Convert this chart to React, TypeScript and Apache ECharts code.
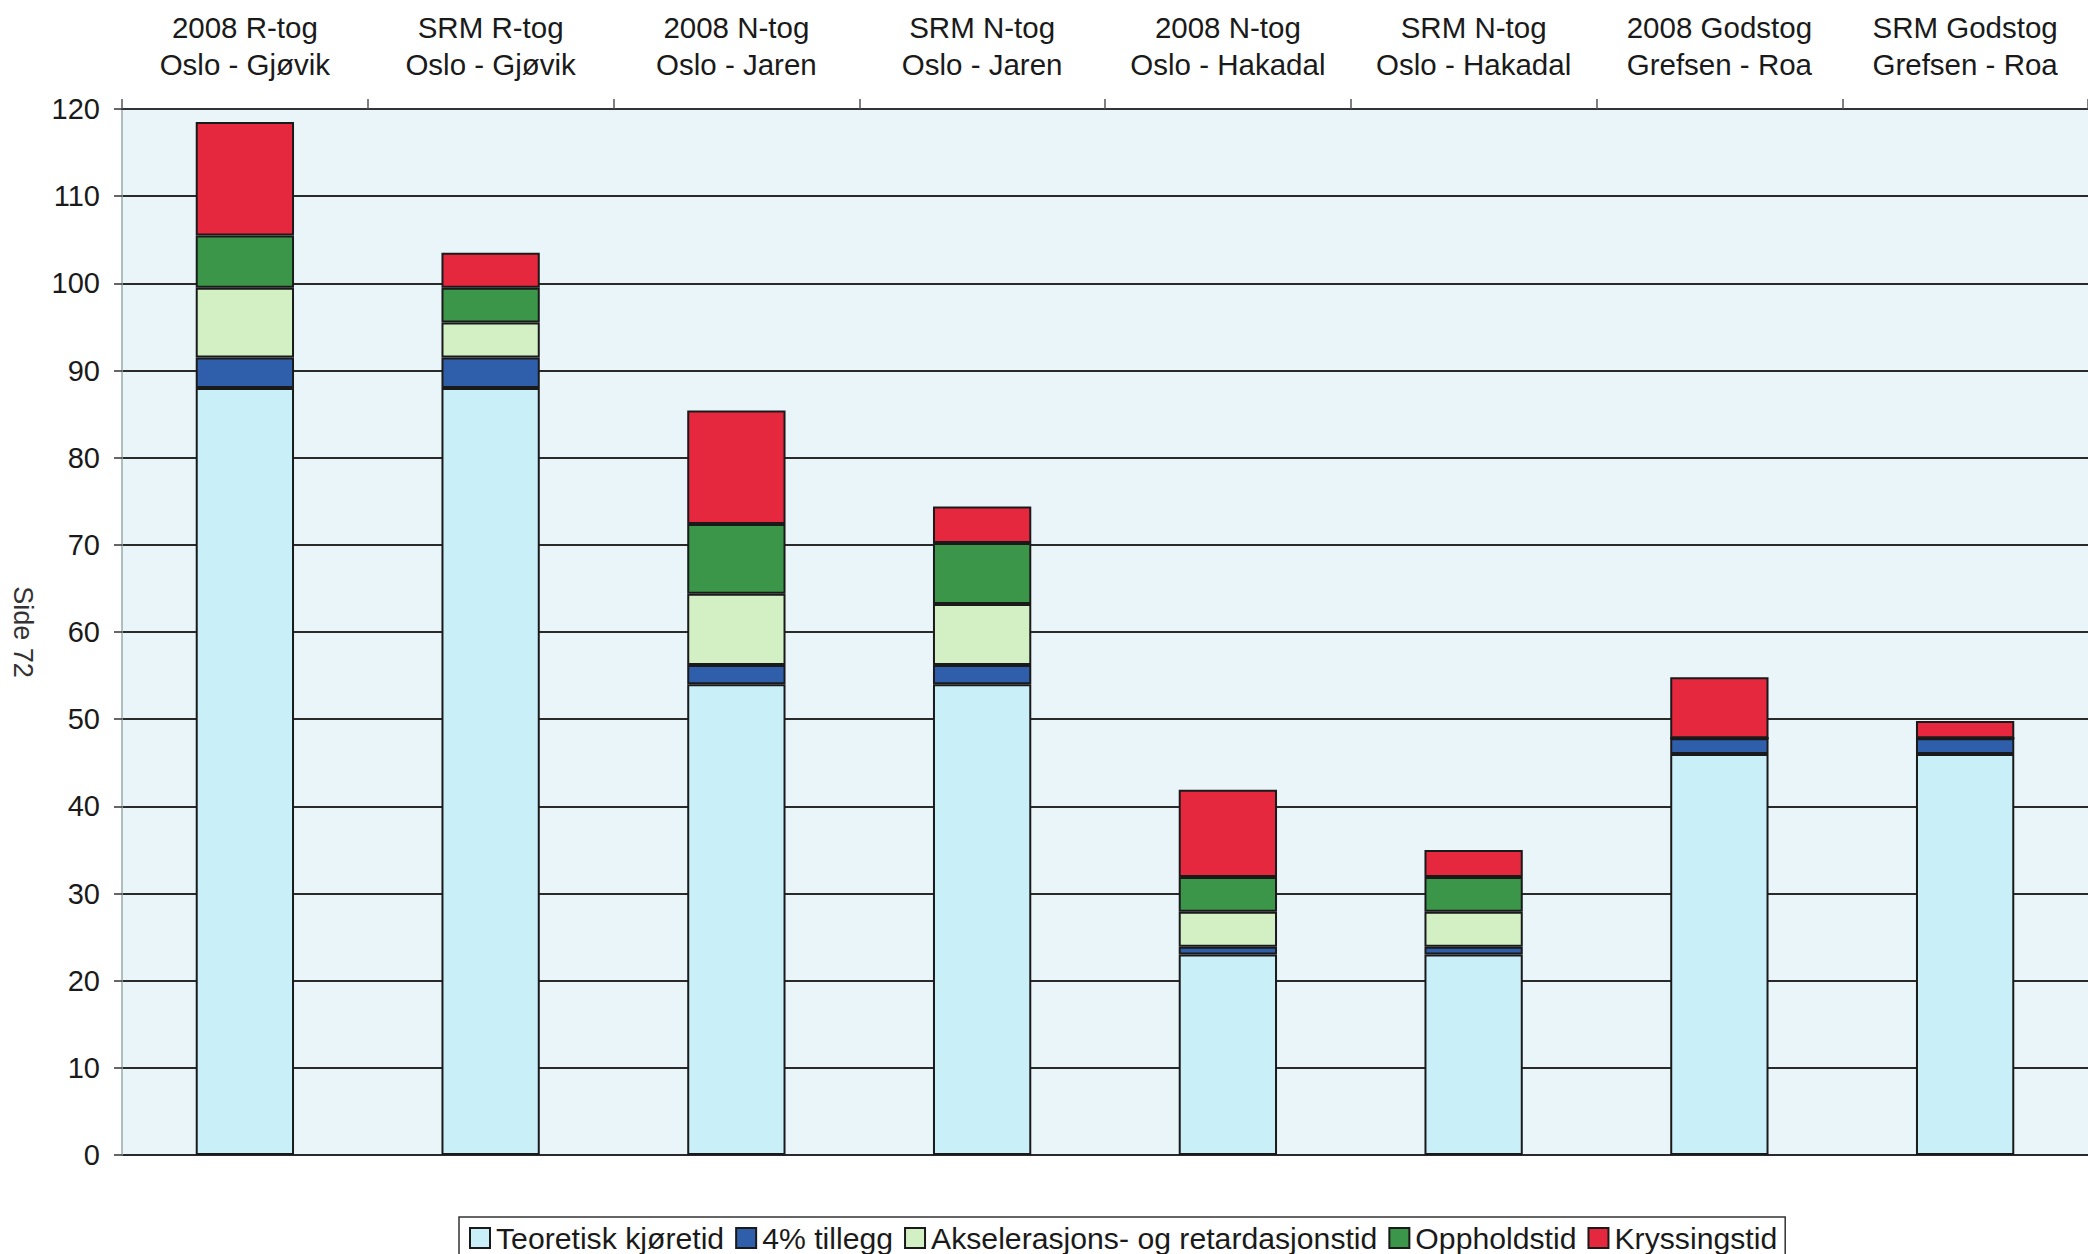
import React, { useEffect, useRef } from "react";
import * as echarts from "echarts";

const categories = [
  "2008 R-tog\nOslo - Gjøvik",
  "SRM R-tog\nOslo - Gjøvik",
  "2008 N-tog\nOslo - Jaren",
  "SRM N-tog\nOslo - Jaren",
  "2008 N-tog\nOslo - Hakadal",
  "SRM N-tog\nOslo - Hakadal",
  "2008 Godstog\nGrefsen - Roa",
  "SRM Godstog\nGrefsen - Roa",
];

const teoretisk = [88, 88, 54, 54, 23, 23, 46, 46];
const tillegg = [3.5, 3.5, 2.2, 2.2, 0.9, 0.9, 1.8, 1.8];
const akselerasjon = [8, 4, 8.2, 7, 4, 4, 0, 0];
const opphold = [6, 4, 8, 7, 4, 4, 0, 0];
const kryssing = [13, 4, 13, 4.2, 10, 3.1, 7, 2];

const seriesNames = [
  "Teoretisk kjøretid",
  "4% tillegg",
  "Akselerasjons- og retardasjonstid",
  "Oppholdstid",
  "Kryssingstid",
];
const seriesColors = ["#c9eff9", "#2f5fab", "#d3f0c4", "#3b9649", "#e6283f"];
const yTicks = { min: 0, max: 120, interval: 10 };

const FONT = "'Liberation Sans', Arial, sans-serif";

export default function App() {
  const ref = useRef<HTMLDivElement>(null);
  useEffect(() => {
    document.body.style.margin = "0";
    const chart = echarts.init(ref.current!, null, { renderer: "svg" });
    const values = [teoretisk, tillegg, akselerasjon, opphold, kryssing];
    chart.setOption({
      animation: false,
      backgroundColor: "#ffffff",
      textStyle: { fontFamily: FONT },
      grid: {
        left: 122,
        right: 0,
        top: 109,
        bottom: 99,
        show: true,
        backgroundColor: "#eaf5fa",
        borderWidth: 0,
      },
      legend: {
        left: 459,
        top: 1217,
        orient: "horizontal",
        itemWidth: 20,
        itemHeight: 20,
        itemGap: 11,
        padding: [6, 8, 10, 10],
        borderColor: "#333",
        borderWidth: 1.5,
        backgroundColor: "#ffffff",
        icon: "rect",
        textStyle: {
          fontFamily: FONT,
          fontSize: 30.2,
          color: "#1a1a1a",
          padding: [0, 0, 0, 1],
        },
        data: seriesNames,
      },
      graphic: [
        {
          type: "text",
          x: 23,
          y: 632,
          rotation: -Math.PI / 2,
          style: {
            text: "Side 72",
            fontFamily: FONT,
            fontSize: 27,
            fill: "#333",
            textAlign: "center",
            textVerticalAlign: "middle",
          },
        },
      ],
      xAxis: {
        type: "category",
        position: "top",
        data: categories,
        axisLine: {
          show: true,
          onZero: false,
          lineStyle: { color: "#333", width: 2 },
        },
        axisTick: {
          show: true,
          alignWithLabel: false,
          length: 10,
          lineStyle: { color: "#555", width: 1.5 },
        },
        axisLabel: {
          fontFamily: FONT,
          fontSize: 29.5,
          lineHeight: 37,
          color: "#1a1a1a",
          margin: 26,
          interval: 0,
        },
      },
      yAxis: {
        type: "value",
        min: yTicks.min,
        max: yTicks.max,
        interval: yTicks.interval,
        axisLine: { show: true, lineStyle: { color: "#9aa", width: 1.5 } },
        axisTick: {
          show: true,
          length: 8,
          lineStyle: { color: "#333", width: 1.5 },
        },
        axisLabel: {
          fontFamily: FONT,
          fontSize: 29,
          color: "#1a1a1a",
          margin: 22,
        },
        splitLine: { show: true, lineStyle: { color: "#2a2a2a", width: 2 } },
      },
      series: seriesNames.map((name, i) => ({
        name,
        type: "bar",
        stack: "total",
        barWidth: "40%",
        data: values[i],
        itemStyle: {
          color: seriesColors[i],
          borderColor: "#1a1a1a",
          borderWidth: 2,
        },
        emphasis: { disabled: true },
      })),
    });
    return () => chart.dispose();
  }, []);
  return (
    <div
      ref={ref}
      style={{ position: "absolute", left: 0, top: 0, width: 2088, height: 1254 }}
    />
  );
}
